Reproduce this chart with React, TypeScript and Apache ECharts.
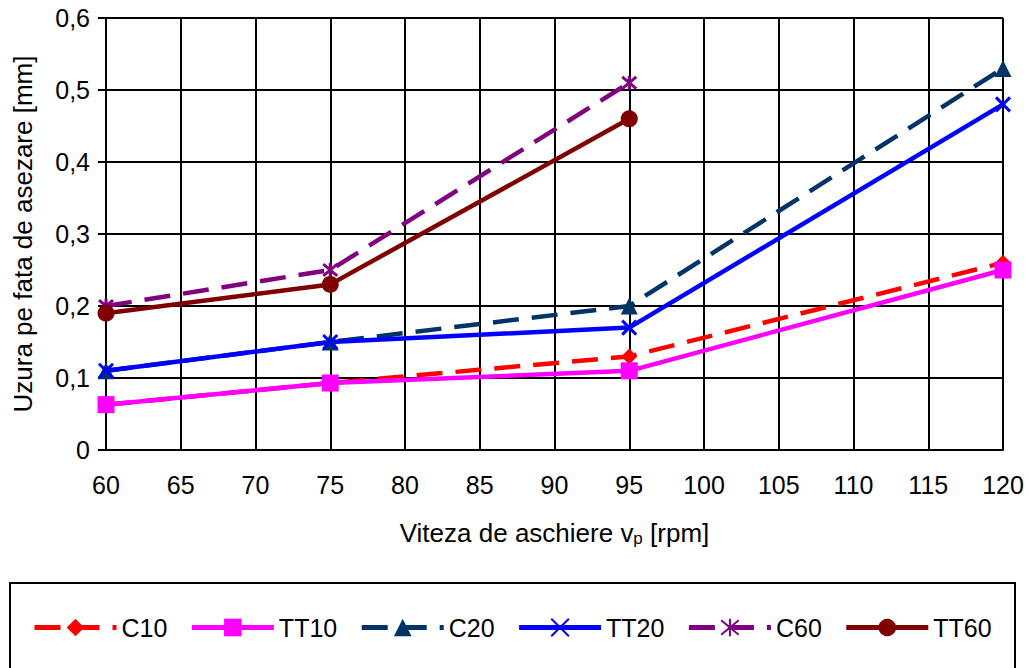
import React, { useEffect, useRef } from "react";
import * as echarts from "echarts";

const speeds = [60, 75, 95, 120];
const c10 = [0.063, 0.093, 0.13, 0.26];
const tt10 = [0.063, 0.093, 0.11, 0.25];
const c20 = [0.11, 0.15, 0.2, 0.53];
const tt20 = [0.11, 0.15, 0.17, 0.48];
const c60 = [0.2, 0.25, 0.51];
const tt60 = [0.19, 0.23, 0.46];

const FONT = "'Liberation Sans', Arial, sans-serif";
const pair = (ys: number[]) => ys.map((y, i) => [speeds[i], y]);

const X_PATH = "path://M0,0L10,10M10,0L0,10";
const STAR_PATH = "path://M0,0L10,10M10,0L0,10M5,-1L5,11";

export default function App() {
  const ref = useRef<HTMLDivElement>(null);
  useEffect(() => {
    if (!ref.current) return;
    const chart = echarts.init(ref.current, undefined, { renderer: "svg" });
    const mk = (
      name: string,
      ys: number[],
      color: string,
      dashed: boolean,
      symbol: string,
      symbolSize: number,
      stroked = false
    ) => ({
      name,
      type: "line",
      data: pair(ys),
      symbol,
      symbolSize,
      showSymbol: true,
      lineStyle: { color, width: 4.5, type: dashed ? [26, 13] : "solid" },
      itemStyle: stroked
        ? { color: "none", borderColor: color, borderWidth: 3 }
        : { color, borderWidth: 0 },
      emphasis: { disabled: true },
    });
    chart.setOption({
      animation: false,
      textStyle: { fontFamily: FONT },
      grid: { left: 106, right: 26, top: 18, bottom: 218 },
      xAxis: {
        type: "value",
        min: 60,
        max: 120,
        interval: 5,
        name: "Viteza de aschiere v{sub|p} [rpm]",
        nameLocation: "middle",
        nameGap: 68,
        nameTextStyle: {
          fontSize: 26,
          color: "#000",
          fontFamily: FONT,
          rich: { sub: { fontSize: 17, padding: [12, 0, 0, 0], fontFamily: FONT } },
        },
        axisLine: { lineStyle: { color: "#000", width: 2 } },
        axisTick: { show: false },
        axisLabel: { fontSize: 25, color: "#000", margin: 22, fontFamily: FONT },
        splitLine: { lineStyle: { color: "#000", width: 2 } },
      },
      yAxis: {
        type: "value",
        min: 0,
        max: 0.6,
        interval: 0.1,
        name: "Uzura pe fata de asezare [mm]",
        nameLocation: "middle",
        nameGap: 70,
        nameTextStyle: { fontSize: 26, color: "#000", fontFamily: FONT },
        axisLine: { show: true, lineStyle: { color: "#000", width: 2 } },
        axisTick: { show: true, length: 8, lineStyle: { color: "#000", width: 2 } },
        axisLabel: {
          fontSize: 25,
          color: "#000",
          margin: 16,
          fontFamily: FONT,
          formatter: (v: number) => (v === 0 ? "0" : v.toFixed(1).replace(".", ",")),
        },
        splitLine: { lineStyle: { color: "#000", width: 2 } },
      },
      legend: {
        left: 27,
        top: 610,
        itemWidth: 82,
        itemHeight: 22,
        itemGap: 22,
        lineStyle: { width: 5 },
        textStyle: { fontSize: 25, color: "#000", fontFamily: FONT },
        data: ["C10", "TT10", "C20", "TT20", "C60", "TT60"],
      },
      graphic: [
        {
          type: "rect",
          shape: { x: 10, y: 583, width: 1005, height: 120 },
          style: { fill: "none", stroke: "#000", lineWidth: 2 },
          silent: true,
        },
      ],
      series: [
        mk("C10", c10, "#ff0000", true, "diamond", 16),
        mk("TT10", tt10, "#ff00ff", false, "rect", 17),
        mk("C20", c20, "#003366", true, "triangle", 17),
        mk("TT20", tt20, "#0000ff", false, X_PATH, 14, true),
        mk("C60", c60, "#800080", true, STAR_PATH, 14, true),
        mk("TT60", tt60, "#800000", false, "circle", 17),
      ],
    });
    return () => chart.dispose();
  }, []);
  return (
    <div
      ref={ref}
      style={{ position: "absolute", left: 0, top: 0, width: 1029, height: 668, background: "#fff" }}
    />
  );
}
